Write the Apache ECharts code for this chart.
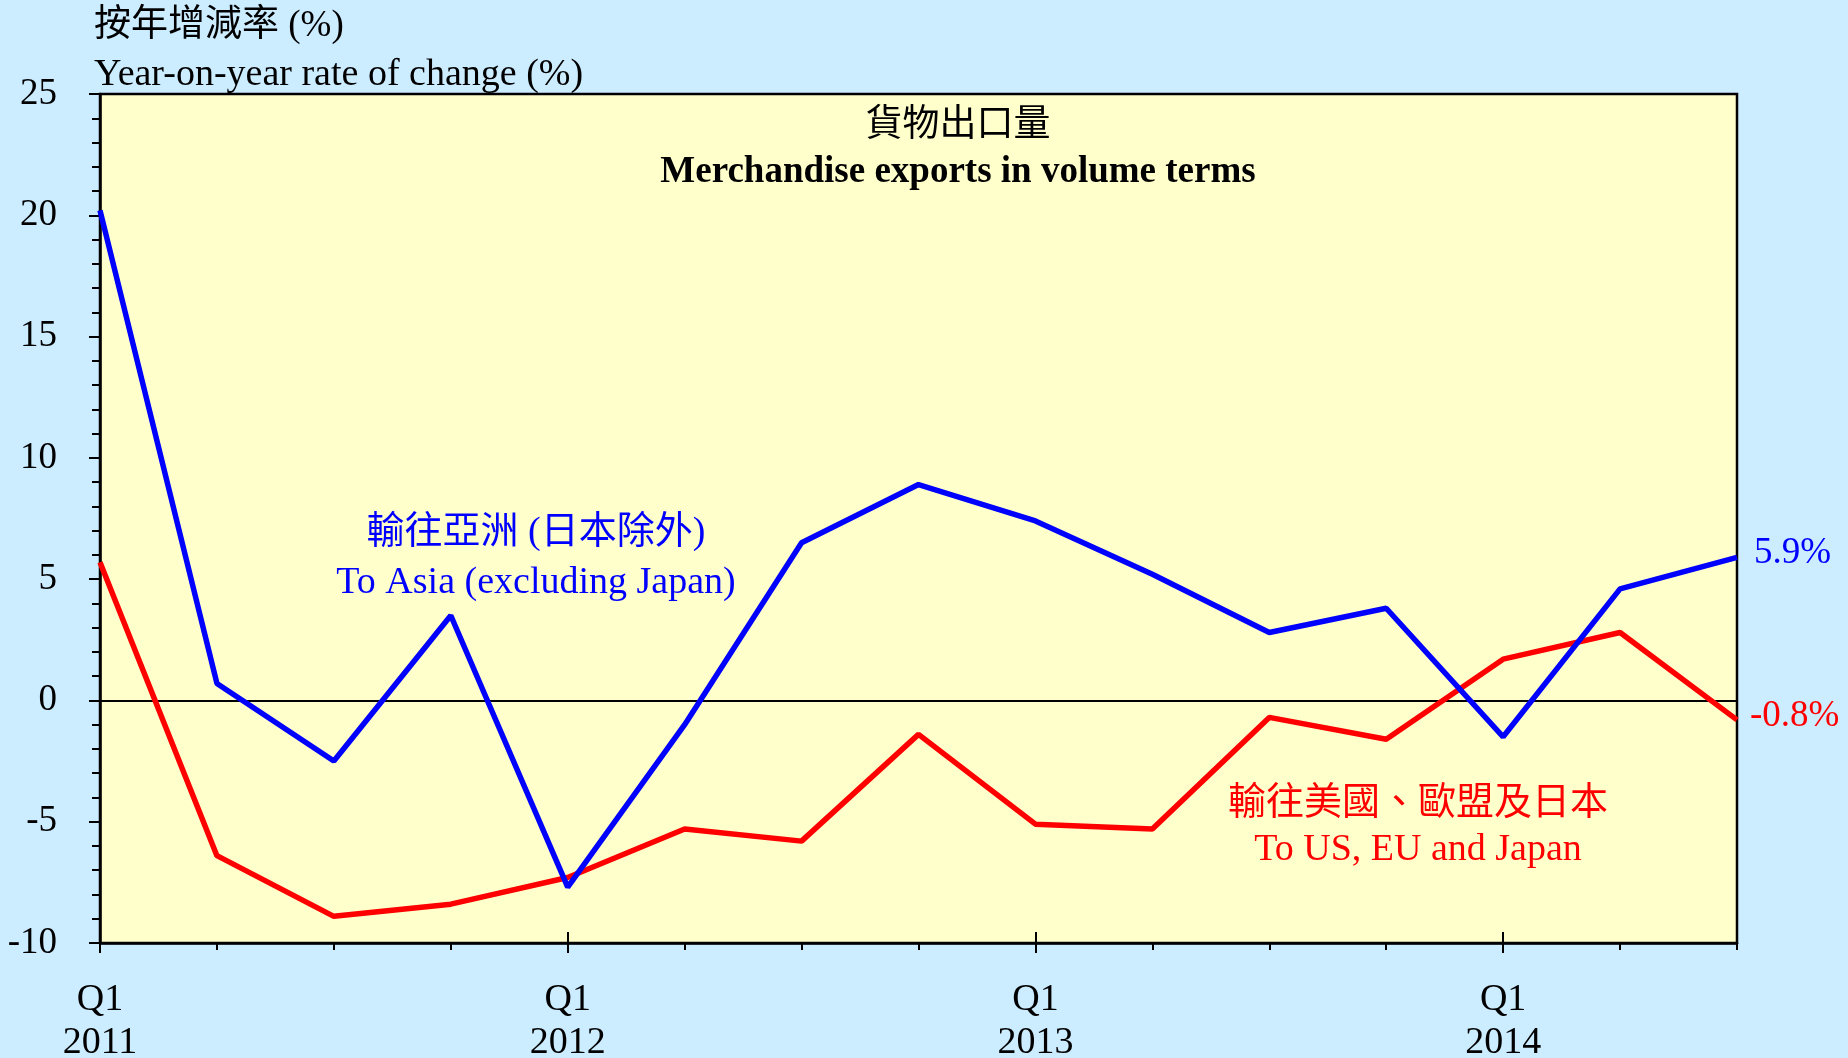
<!DOCTYPE html>
<html>
<head>
<meta charset="utf-8">
<script src="https://cdn.jsdelivr.net/npm/echarts@6/dist/echarts.min.js"></script>
<style>
  html, body { margin: 0; padding: 0; background: #CCECFF; }
  #chart { width: 1848px; height: 1058px; }
</style>
</head>
<body>
<div id="chart"></div>
<script>
// quarters on the x axis
const quarters = [
  'Q1 2011', 'Q2 2011', 'Q3 2011', 'Q4 2011',
  'Q1 2012', 'Q2 2012', 'Q3 2012', 'Q4 2012',
  'Q1 2013', 'Q2 2013', 'Q3 2013', 'Q4 2013',
  'Q1 2014', 'Q2 2014', 'Q3 2014'
]
// year-on-year % change
const toAsia = [20.2, 0.7, -2.5, 3.5, -7.7, -1.0, 6.5, 8.9, 7.4, 5.2, 2.8, 3.8, -1.5, 4.6, 5.9]
const toUsEuJapan = [5.7, -6.4, -8.9, -8.4, -7.3, -5.3, -5.8, -1.4, -5.1, -5.3, -0.7, -1.6, 1.7, 2.8, -0.8]
// y axis ticks
const yMin = -10
const yMax = 25
const yStep = 5

const FONT = "'Liberation Serif', 'Times New Roman', 'Noto Sans CJK TC', serif"
const isQ1 = (i) => i % 4 === 0

const chart = echarts.init(document.getElementById('chart'))

const option = {
  backgroundColor: '#CCECFF',
  animation: false,
  grid: {
    left: 100,
    right: 111,
    top: 94,
    bottom: 115,
    outerBoundsMode: 'none',
    show: true,
    backgroundColor: '#FFFFCC',
    borderColor: '#000',
    borderWidth: 2.5
  },
  xAxis: [
    {
      type: 'category',
      data: quarters,
      boundaryGap: false,
      axisLine: { onZero: false, lineStyle: { color: '#000', width: 2.5 } },
      axisTick: { show: true, interval: 0, length: 7, lineStyle: { color: '#000', width: 2 } },
      axisLabel: {
        interval: 0,
        margin: 36,
        color: '#000',
        fontFamily: FONT,
        fontSize: 38,
        lineHeight: 43,
        formatter: (v, i) => isQ1(i) ? v.replace(' ', '\n') : ''
      },
      splitLine: { show: false }
    },
    {
      // longer Q1 ticks, crossing the bottom axis
      type: 'category',
      data: quarters,
      boundaryGap: false,
      position: 'bottom',
      axisLine: { show: false, onZero: false },
      axisTick: { show: true, inside: true, length: 11, interval: (i) => isQ1(i), lineStyle: { color: '#000', width: 2 } },
      axisLabel: { show: false },
      splitLine: { show: false }
    },
    {
      type: 'category',
      data: quarters,
      boundaryGap: false,
      position: 'bottom',
      axisLine: { show: false, onZero: false },
      axisTick: { show: true, length: 10, interval: (i) => isQ1(i), lineStyle: { color: '#000', width: 2 } },
      axisLabel: { show: false },
      splitLine: { show: false }
    },
    {
      // zero line
      type: 'category',
      data: quarters,
      boundaryGap: false,
      axisLine: { show: true, onZero: true, lineStyle: { color: '#000', width: 2 } },
      axisTick: { show: false },
      axisLabel: { show: false },
      splitLine: { show: false }
    }
  ],
  yAxis: {
    type: 'value',
    min: yMin,
    max: yMax,
    interval: yStep,
    axisLine: { show: true, lineStyle: { color: '#000', width: 2.5 } },
    axisTick: { show: true, length: 11, lineStyle: { color: '#000', width: 2 } },
    minorTick: { show: true, splitNumber: 5, length: 8, lineStyle: { color: '#000', width: 2 } },
    axisLabel: { margin: 43, color: '#000', fontFamily: FONT, fontSize: 37 },
    splitLine: { show: false }
  },
  series: [
    {
      name: 'To Asia (excluding Japan)',
      type: 'line',
      data: toAsia,
      symbol: 'none',
      lineStyle: { color: '#0000FF', width: 5.5 },
      itemStyle: { color: '#0000FF' },
      z: 3,
      endLabel: {
        show: true,
        distance: 17,
        offset: [0, -4],
        color: '#0000FF',
        fontFamily: FONT,
        fontSize: 37,
        formatter: (p) => p.value.toFixed(1) + '%'
      }
    },
    {
      name: 'To US, EU and Japan',
      type: 'line',
      data: toUsEuJapan,
      symbol: 'none',
      lineStyle: { color: '#FF0000', width: 5.5 },
      itemStyle: { color: '#FF0000' },
      z: 2,
      endLabel: {
        show: true,
        distance: 13,
        offset: [0, -4],
        color: '#FF0000',
        fontFamily: FONT,
        fontSize: 37,
        formatter: (p) => p.value.toFixed(1) + '%'
      }
    }
  ],
  graphic: [
    { type: 'text', left: 94, top: 8, style: { text: '按年增減率 (%)', font: '37px ' + FONT, fill: '#000' } },
    { type: 'text', left: 94, top: 56, style: { text: 'Year-on-year rate of change (%)', font: '38px ' + FONT, fill: '#000' } },
    { type: 'text', x: 958, y: 126, style: { text: '貨物出口量', font: '37px ' + FONT, fill: '#000', align: 'center', verticalAlign: 'middle' } },
    { type: 'text', x: 958, y: 172, style: { text: 'Merchandise exports in volume terms', font: 'bold 37px ' + FONT, fill: '#000', align: 'center', verticalAlign: 'middle' } },
    { type: 'text', x: 536, y: 533, style: { text: '輸往亞洲 (日本除外)', font: '38px ' + FONT, fill: '#0000FF', align: 'center', verticalAlign: 'middle' } },
    { type: 'text', x: 536, y: 583, style: { text: 'To Asia (excluding Japan)', font: '38px ' + FONT, fill: '#0000FF', align: 'center', verticalAlign: 'middle' } },
    { type: 'text', x: 1418, y: 804, style: { text: '輸往美國、歐盟及日本', font: '38px ' + FONT, fill: '#FF0000', align: 'center', verticalAlign: 'middle' } },
    { type: 'text', x: 1418, y: 850, style: { text: 'To US, EU and Japan', font: '38px ' + FONT, fill: '#FF0000', align: 'center', verticalAlign: 'middle' } }
  ]
}

chart.setOption(option)
window.addEventListener('resize', () => chart.resize())
</script>
</body>
</html>
